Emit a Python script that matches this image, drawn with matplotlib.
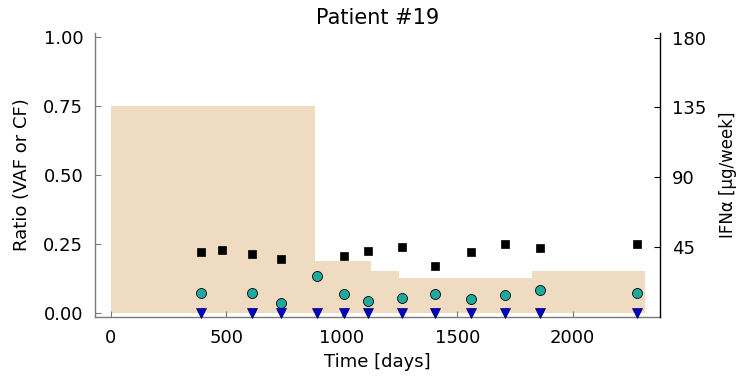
import numpy as np
import matplotlib
matplotlib.use("Agg")
import matplotlib.pyplot as plt

# data
days_vaf = [391, 480, 613, 739, 1011, 1115, 1262, 1404, 1558, 1707, 1858, 2280]
vaf = [0.219, 0.228, 0.214, 0.193, 0.204, 0.224, 0.239, 0.169, 0.219, 0.249, 0.233, 0.249]

days_cf = [391, 613, 739, 893, 1011, 1115, 1262, 1404, 1558, 1707, 1858, 2280]
cf_circle = [0.070, 0.070, 0.036, 0.132, 0.067, 0.0435, 0.052, 0.069, 0.0486, 0.064, 0.081, 0.070]
cf_triangle = [0.0] * 12

dose_edges = [0, 884, 1125, 1248, 1825, 2313]
doses = [135, 33.75, 27, 22.5, 27]
IFN_MAX = 180

plt.rcParams['font.family'] = ['DejaVu Sans']

fig = plt.figure(figsize=(7.36, 3.77), dpi=100)
ax = fig.add_axes([95 / 736, 1 - 316.7 / 377, (660.3 - 95) / 736, (316.7 - 33.3) / 377])
ax2 = ax.twinx()

# treatment shown on ratio scale (dose / max dose)
y_fill = np.append(doses, doses[-1]) / IFN_MAX
ax.fill_between(dose_edges, y_fill, 0, step='post', color='#EFDBC1', lw=0, zorder=1)

ax.plot(days_vaf, vaf, ls='none', marker='s', ms=6.3, color='black', mec='black', mew=0.5, zorder=3)
ax.plot(days_cf, cf_circle, ls='none', marker='o', ms=7.2, color='#20AA9F', mec='black', mew=0.6, zorder=3)
ax.plot(days_cf, cf_triangle, ls='none', marker='v', ms=7.2, color='#0000CD', mec='#000055', mew=0.5, zorder=3,
        clip_on=False)

ax.set_xlim(-68, 2379)
ax.set_ylim(-0.0145, 1.0123)
ax2.set_ylim(0, 182.8)

ax.set_xticks([0, 500, 1000, 1500, 2000])
ax.set_yticks([0, 0.25, 0.5, 0.75, 1.0])
ax.set_yticklabels(['0.00', '0.25', '0.50', '0.75', '1.00'])
ax2.set_yticks([45, 90, 135, 180])

grey = '#7a7a7a'
for s in ['top', 'right']:
    ax.spines[s].set_visible(False)
for s in ['left', 'bottom']:
    ax.spines[s].set_color(grey)
    ax.spines[s].set_linewidth(1.0)
for s in ['top', 'left', 'bottom']:
    ax2.spines[s].set_visible(False)
ax2.spines['right'].set_color('black')
ax2.spines['right'].set_linewidth(1.0)

ax.tick_params(axis='both', direction='in', length=4, width=0.8, color=grey, labelsize=13, pad=8.5)
ax2.tick_params(axis='y', direction='in', length=4, width=0.8, color='black', labelsize=13, pad=8.5)

ax.set_xlabel('Time [days]', fontsize=13, labelpad=5)
ax.set_ylabel('Ratio (VAF or CF)', fontsize=13, labelpad=9)
ax2.set_ylabel('IFNα [μg/week]', fontsize=12, labelpad=9)
ax.set_title('Patient #19', fontsize=15, pad=6.5)

fig.savefig('out.png', dpi=100)
